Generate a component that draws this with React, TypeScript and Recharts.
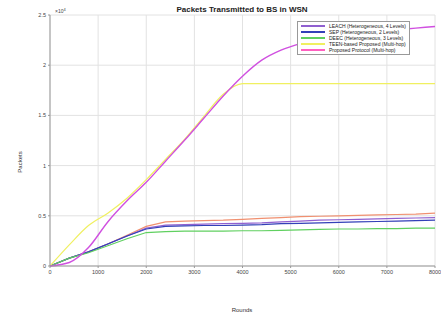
import React from 'react';
import { LineChart, Line, XAxis, YAxis, CartesianGrid, Legend, Label } from 'recharts';

const rounds = [0, 400, 800, 1200, 1600, 2000, 2400, 2800, 3200, 3600, 4000, 4400, 4800, 5200, 5600, 6000, 6400, 6800, 7200, 7600, 8000];
const xTicks = [0, 1000, 2000, 3000, 4000, 5000, 6000, 7000, 8000];
const yTicks = [0, 5000, 10000, 15000, 20000, 25000];

const seriesPurple = [0, 789, 1404, 2193, 2982, 3772, 4079, 4123, 4167, 4211, 4254, 4298, 4386, 4474, 4561, 4605, 4649, 4693, 4737, 4781, 4825];
const seriesBlue = [0, 789, 1404, 2193, 2982, 3684, 3947, 3991, 4035, 4035, 4079, 4123, 4211, 4254, 4298, 4342, 4386, 4430, 4474, 4518, 4561];
const seriesGreen = [0, 789, 1316, 2018, 2719, 3333, 3421, 3465, 3465, 3465, 3509, 3509, 3553, 3596, 3640, 3684, 3684, 3728, 3728, 3772, 3772];
const seriesYellow = [0, 2105, 4035, 5263, 6754, 8596, 10614, 12632, 14912, 17105, 18158, 18158, 18158, 18158, 18158, 18158, 18158, 18158, 18158, 18158, 18158];
const seriesMagenta = [0, 350, 1840, 4386, 6491, 8333, 10439, 12544, 14737, 16930, 18900, 20500, 21500, 22150, 22600, 22900, 23150, 23350, 23520, 23690, 23860];
const seriesOrange = [0, 789, 1404, 2193, 3070, 3947, 4386, 4474, 4518, 4561, 4649, 4737, 4825, 4912, 4956, 5000, 5044, 5088, 5132, 5175, 5263];

const legendNames = [
  'LEACH (Heterogeneous, 4 Levels)',
  'SEP (Heterogeneous, 2 Levels)',
  'DEEC (Heterogeneous, 3 Levels)',
  'TEEN-based Proposed (Multi-hop)',
  'Proposed Protocol (Multi-hop)',
];
const legendColors = ['#9060d0', '#3340b8', '#60d060', '#f0f060', '#ff60c0'];

const data = rounds.map((r, i) => ({
  round: r,
  purple: seriesPurple[i],
  blue: seriesBlue[i],
  green: seriesGreen[i],
  yellow: seriesYellow[i],
  magenta: seriesMagenta[i],
  orange: seriesOrange[i],
}));

const FONT = '"Liberation Sans", Arial, sans-serif';

const LegendBox = () => (
  <div style={{ border: '1px solid #999', background: '#fff', padding: '1px 3px', fontFamily: FONT, fontSize: 5, lineHeight: '6px', color: '#222' }}>
    {legendNames.map((n, i) => (
      <div key={n} style={{ display: 'flex', alignItems: 'center', whiteSpace: 'nowrap', height: 6 }}>
        <span style={{ display: 'inline-block', width: 24, height: 2, background: legendColors[i], marginRight: 4 }} />
        <span>{n}</span>
      </div>
    ))}
  </div>
);

export default function App() {
  return (
    <div style={{ position: 'absolute', left: 0, top: 0, width: 441, height: 313, background: '#fff' }}>
      <LineChart width={441} height={313} data={data} margin={{ top: 15, right: 6, left: 20, bottom: 0 }}>
        <CartesianGrid stroke="#e2e2e2" />
        <XAxis
          dataKey="round"
          type="number"
          domain={[0, 8000]}
          ticks={xTicks}
          height={13}
          tick={{ fontSize: 5.5, fill: '#444', fontFamily: FONT }}
          tickSize={2}
          tickLine={{ stroke: '#999' }}
          axisLine={{ stroke: '#999' }}
          interval={0}
        >
          <Label
            content={() => (
              <text x={242} y={312} textAnchor="middle" fontSize={6} fill="#333" fontFamily={FONT}>Rounds</text>
            )}
          />
        </XAxis>
        <XAxis xAxisId="top" orientation="top" dataKey="round" type="number" domain={[0, 8000]} ticks={xTicks} height={0} tick={false} tickLine={false} axisLine={{ stroke: '#999' }} />
        <YAxis
          type="number"
          domain={[0, 25000]}
          ticks={yTicks}
          width={30}
          tickFormatter={(v: number) => String(v / 10000)}
          tick={{ fontSize: 5.5, fill: '#444', fontFamily: FONT }}
          tickSize={2}
          tickLine={{ stroke: '#999' }}
          axisLine={{ stroke: '#999' }}
        >
          <Label
            content={() => (
              <g>
                <text x={242} y={12} textAnchor="middle" fontSize={8} fontWeight="bold" fill="#222" fontFamily={FONT}>Packets Transmitted to BS in WSN</text>
                <text x={22} y={162} transform="rotate(-90 22 162)" textAnchor="middle" fontSize={6} fill="#333" fontFamily={FONT}>Packets</text>
                <text x={55} y={13} fontSize={5} fill="#444" fontFamily={FONT}>
                  ×10<tspan dy={-2} fontSize={4}>4</tspan>
                </text>
              </g>
            )}
          />
        </YAxis>
        <YAxis yAxisId="right" orientation="right" width={0} domain={[0, 25000]} tick={false} tickLine={false} axisLine={{ stroke: '#999' }} />
        <Legend content={<LegendBox />} wrapperStyle={{ position: 'absolute', left: 297, top: 21, width: 'auto' }} />
        <Line type="linear" dataKey="orange" name="orange" stroke="#f09070" strokeWidth={1.2} dot={false} isAnimationActive={false} legendType="none" />
        <Line type="linear" dataKey="purple" name={legendNames[0]} stroke={legendColors[0]} strokeWidth={1.2} dot={false} isAnimationActive={false} />
        <Line type="linear" dataKey="blue" name={legendNames[1]} stroke={legendColors[1]} strokeWidth={1.2} dot={false} isAnimationActive={false} />
        <Line type="linear" dataKey="green" name={legendNames[2]} stroke={legendColors[2]} strokeWidth={1.2} dot={false} isAnimationActive={false} />
        <Line type="monotone" dataKey="yellow" name={legendNames[3]} stroke={legendColors[3]} strokeWidth={1.2} dot={false} isAnimationActive={false} />
        <Line type="monotone" dataKey="magenta" name={legendNames[4]} stroke="#d050e0" strokeWidth={1.4} dot={false} isAnimationActive={false} />
      </LineChart>
    </div>
  );
}
